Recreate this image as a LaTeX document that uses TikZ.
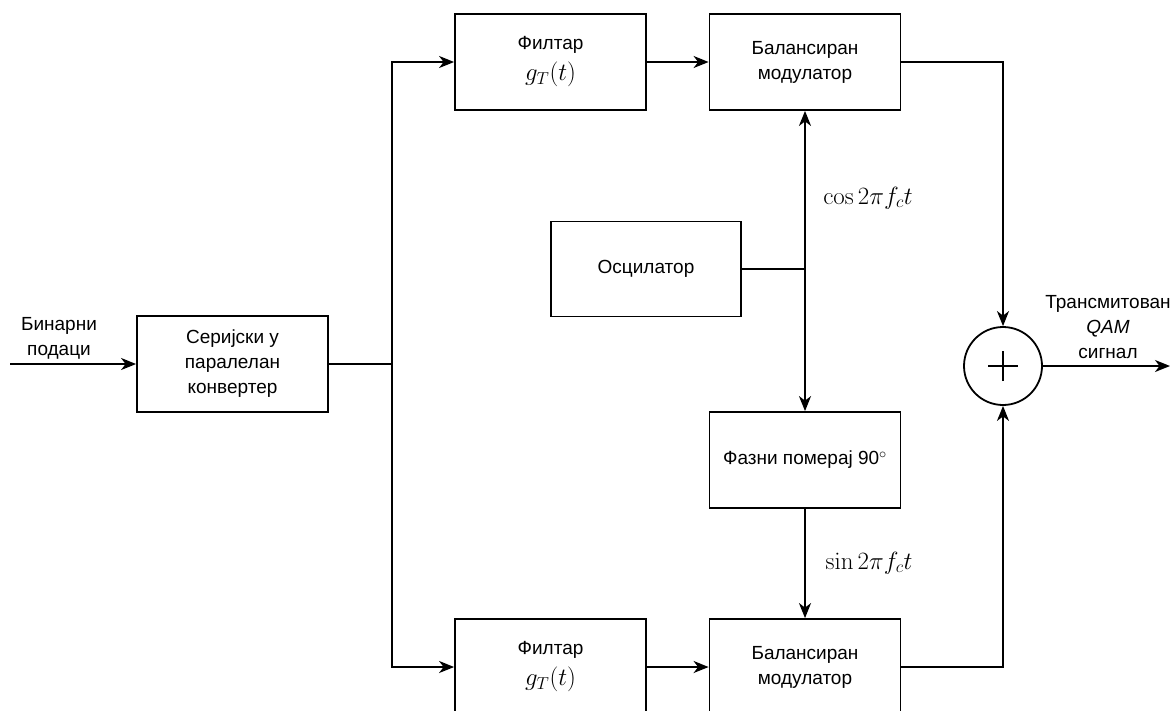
\documentclass[tikz,border=0pt]{standalone}
\usepackage[no-math]{fontspec}
\setmainfont{Liberation Sans}
\usetikzlibrary{arrows.meta}
\tikzset{
  blk/.style={draw, line width=1.8pt, minimum width=191pt, minimum height=96pt, align=center, inner sep=0pt},
  sumc/.style={draw, circle, line width=1.8pt, minimum size=78pt, inner sep=0pt},
  wire/.style={line width=1.8pt},
  arr/.style={wire, -{Stealth[length=15pt, width=12pt, inset=4.5pt]}},
  lbl/.style={align=center, inner sep=0pt},
  mlbl/.style={inner sep=0pt, font=\fontsize{23}{27}\selectfont}
}
\begin{document}
\begin{tikzpicture}[x=1pt, y=-1pt, font=\fontsize{19}{25}\selectfont]
\useasboundingbox (0,0) rectangle (1172,710);
\node[blk] (ser) at (232.5,364) {Серијски у\\паралелан\\конвертер};
\node[blk] (f1) at (550.5,62) {Филтар\\[6pt]{\fontsize{23}{27}\selectfont$g_T(t)$}};
\node[blk] (m1) at (805,62) {Балансиран\\модулатор};
\node[blk, minimum width=190pt, minimum height=95pt] (osc) at (646,269) {Осцилатор};
\node[blk] (ph) at (805,460) {Фазни померај 90$^{\circ}$};
\node[blk] (f2) at (550.5,667) {Филтар\\[6pt]{\fontsize{23}{27}\selectfont$g_T(t)$}};
\node[blk] (m2) at (805,667) {Балансиран\\модулатор};
\node[sumc] (sum) at (1003,366) {};
\draw[wire] ([xshift=-15pt]sum.center) -- ([xshift=15pt]sum.center);
\draw[wire] ([yshift=-15pt]sum.center) -- ([yshift=15pt]sum.center);

\coordinate (in) at (10,364);
\coordinate (sp) at (392,364);
\coordinate (j) at (805,269);
\coordinate (out) at (1170,366);

\node[lbl] (lin) at (59,338) {Бинарни\\подаци};
\node[lbl] (lout) at (1108,327) {Трансмитован\\\textit{QAM}\\сигнал};
\node[mlbl] (lcos) at (868,198) {$\cos 2\pi f_c t$};
\node[mlbl] (lsin) at (869,563) {$\sin 2\pi f_c t$};

\draw[arr] (in) -- (ser.west);
\draw[wire] (ser.east) -- (sp);
\draw[arr] (sp) |- (f1.west);
\draw[arr] (sp) |- (f2.west);
\draw[arr] (f1.east) -- (m1.west);
\draw[arr] (f2.east) -- (m2.west);
\draw[wire] (osc.east) -- (j);
\draw[arr] (j) -- (m1.south);
\draw[arr] (j) -- (ph.north);
\draw[arr] (ph.south) -- (m2.north);
\draw[arr] (m1.east) -| (sum.north);
\draw[arr] (m2.east) -| (sum.south);
\draw[arr] (sum.east) -- (out);
\end{tikzpicture}
\end{document}
